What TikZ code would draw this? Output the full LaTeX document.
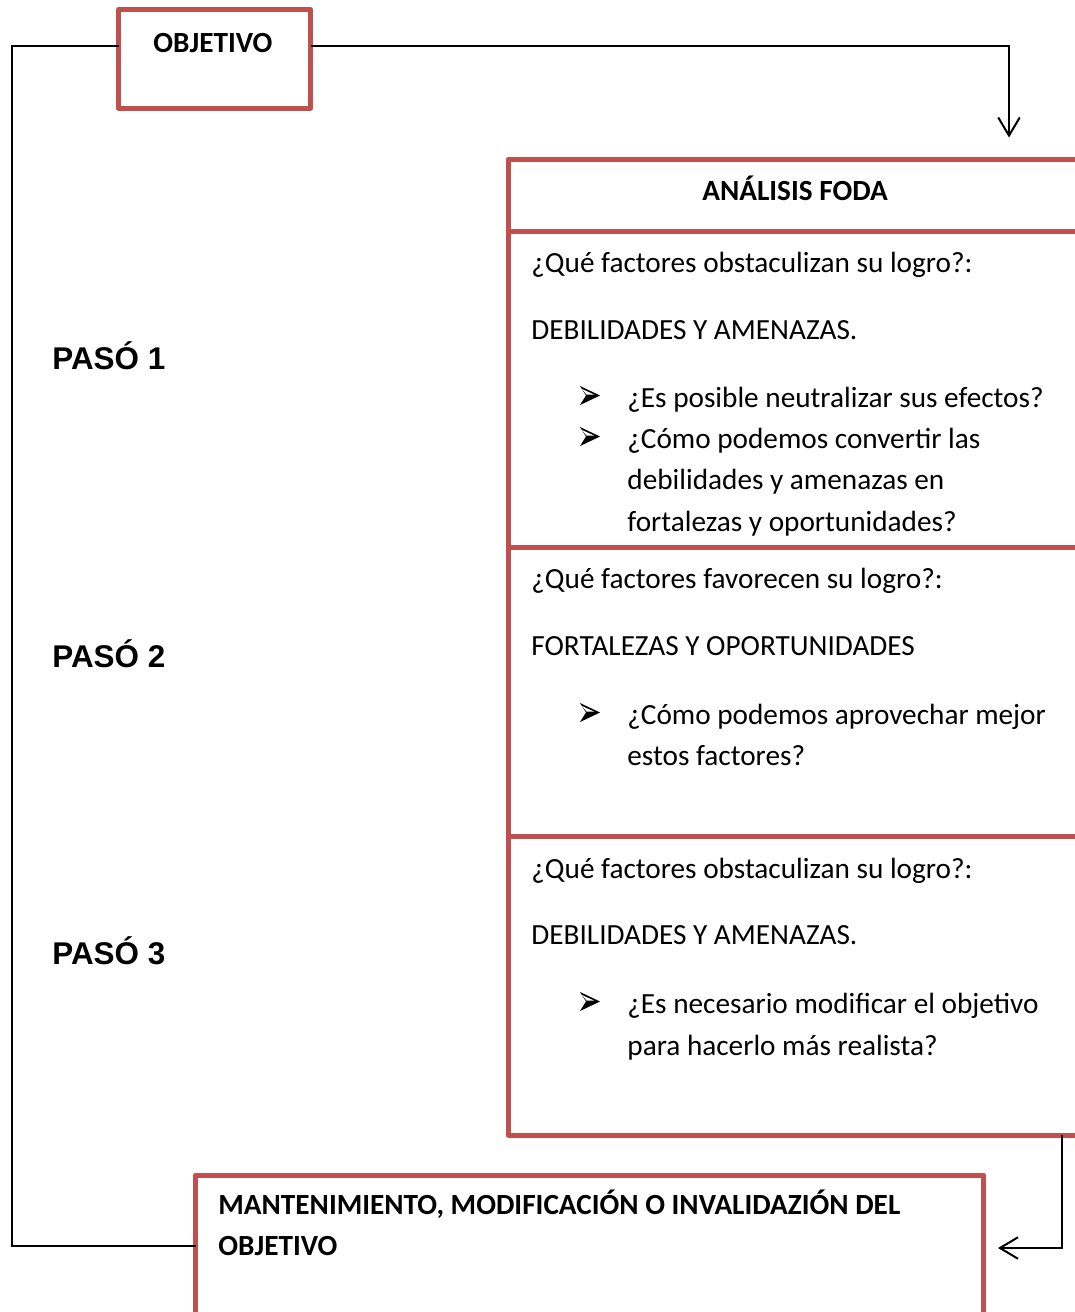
\documentclass[tikz,border=0pt]{standalone}
\usepackage{fontspec}
\setmainfont{Carlito}
\newfontfamily\pasofont{Liberation Sans}
\usetikzlibrary{arrows.meta,positioning}
\definecolor{rojo}{HTML}{C0504D}
\newcommand{\px}{*0.465pt}
\tikzset{
  caja/.style={draw=rojo, line width=5\px, line join=round, inner sep=0pt, outer sep=0pt, anchor=north west},
  linea/.style={draw=black, line width=2\px},
  flecha/.style={linea, -{Straight Barb[length=8.4pt, width=10pt]}},
  texto/.style={anchor=base west, inner sep=0pt, yshift=-2\px, font=\fontsize{13.6}{16}\selectfont},
  titulo/.style={texto, font=\fontsize{13.6}{16}\selectfont\bfseries},
  paso/.style={anchor=base west, inner sep=0pt, yshift=-1\px, font=\pasofont\fontsize{14.6}{17}\selectfont\bfseries},
  vineta/.pic={
    \fill[black] (1,-19) -- (21,-9.5) -- (1,0) -- (7,-9.5) -- cycle;
    \fill[white] (3,-16) -- (15,-10.5) -- (7.5,-10.5) -- cycle;
  }
}
\begin{document}
\begin{tikzpicture}[x=0.465pt, y=-0.465pt]
  \useasboundingbox (0,0) rectangle (1075,1312);
  \clip (0,0) rectangle (1075,1312);
  % Cajas
  \node[caja, minimum width=192\px, minimum height=98.5\px] (objetivo) at (118.5,9.5) {};
  \node[caja, minimum width=600\px, minimum height=71.5\px] (foda) at (508,159.5) {};
  \node[caja, minimum width=600\px, minimum height=316\px] (fila1) at (foda.south west) {};
  \node[caja, minimum width=600\px, minimum height=289\px] (fila2) at (fila1.south west) {};
  \node[caja, minimum width=600\px, minimum height=299\px] (fila3) at (fila2.south west) {};
  \node[caja, minimum width=788\px, minimum height=160\px] (mant) at (195.5,1175) {};
  % Titulos
  \node[titulo] (tobj) at (153,50) {OBJETIVO};
  \node[titulo, anchor=base] (tfoda) at (795,198) {ANÁLISIS FODA};
  \node[titulo] (tmant1) at (218,1212) {MANTENIMIENTO, MODIFICACIÓN O INVALIDAZIÓN DEL};
  \node[titulo] (tmant2) at (218,1253) {OBJETIVO};
  % Pasos
  \node[paso] (paso1) at (52,368) {PASÓ 1};
  \node[paso] (paso2) at (52,666) {PASÓ 2};
  \node[paso] (paso3) at (52,963) {PASÓ 3};
  % Fila 1
  \node[texto] (p1a) at (531,270) {¿Qué factores obstaculizan su logro?:};
  \node[texto] (p1b) at (531,337) {DEBILIDADES Y AMENAZAS.};
  \pic (v1a) at (579,405) {vineta};
  \node[texto] (p1c) at (627,405) {¿Es posible neutralizar sus efectos?};
  \pic (v1b) at (579,446) {vineta};
  \node[texto] (p1d) at (627,446) {¿Cómo podemos convertir las};
  \node[texto] (p1e) at (627,487) {debilidades y amenazas en};
  \node[texto] (p1f) at (627,529) {fortalezas y oportunidades?};
  % Fila 2
  \node[texto] (p2a) at (531,586) {¿Qué factores favorecen su logro?:};
  \node[texto] (p2b) at (531,653) {FORTALEZAS Y OPORTUNIDADES};
  \pic (v2a) at (579,722) {vineta};
  \node[texto] (p2c) at (627,722) {¿Cómo podemos aprovechar mejor};
  \node[texto] (p2d) at (627,763) {estos factores?};
  % Fila 3
  \node[texto] (p3a) at (531,876) {¿Qué factores obstaculizan su logro?:};
  \node[texto] (p3b) at (531,942) {DEBILIDADES Y AMENAZAS.};
  \pic (v3a) at (579,1011) {vineta};
  \node[texto] (p3c) at (627,1011) {¿Es necesario modificar el objetivo};
  \node[texto] (p3d) at (627,1053) {para hacerlo más realista?};
  % Conectores
  \coordinate (margen) at (11.5,0);
  \draw[linea] ([yshift=-36.5\px]objetivo.north west) -| (margen |- mant.north west) |- ([yshift=-71\px]mant.north west);
  \draw[flecha] ([yshift=-36.5\px]objetivo.north east) -| ([xshift=501\px, yshift=22\px]foda.north west);
  \draw[flecha] ([xshift=554\px]fila3.south west) |- ([xshift=14.5\px, yshift=-73\px]mant.north east);
\end{tikzpicture}
\end{document}
